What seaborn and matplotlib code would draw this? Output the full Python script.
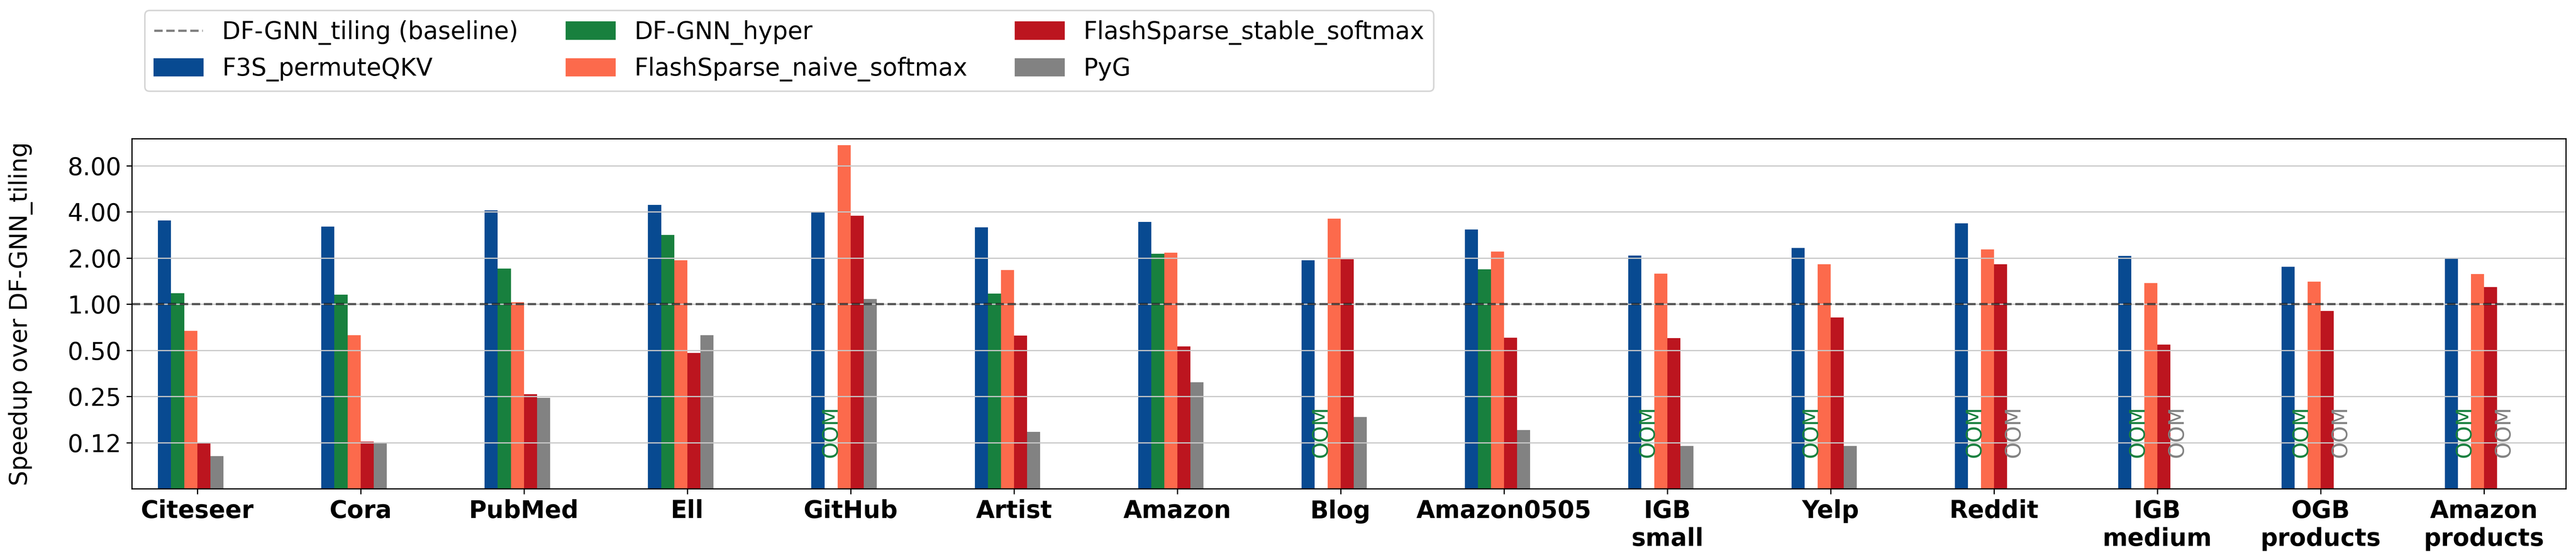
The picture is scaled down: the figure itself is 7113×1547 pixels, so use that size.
import numpy as np
import pandas as pd
import matplotlib
matplotlib.use("Agg")
import matplotlib.pyplot as plt
from matplotlib.lines import Line2D
from matplotlib.patches import Patch
from matplotlib.ticker import FuncFormatter, NullLocator
import seaborn as sns

# datasets on the x axis
datasets = ["Citeseer", "Cora", "PubMed", "Ell", "GitHub", "Artist", "Amazon", "Blog",
            "Amazon0505", "IGB\nsmall", "Yelp", "Reddit", "IGB\nmedium", "OGB\nproducts",
            "Amazon\nproducts"]

# speedup over DF-GNN_tiling (nan = OOM)
nan = np.nan
f3s_permuteqkv = [3.52, 3.20, 4.08, 4.44, 3.95, 3.17, 3.43, 1.93, 3.07, 2.07, 2.33, 3.37, 2.06, 1.75, 1.98]
dfgnn_hyper = [1.18, 1.15, 1.70, 2.83, nan, 1.17, 2.13, nan, 1.69, nan, nan, nan, nan, nan, nan]
flashsparse_naive = [0.668, 0.628, 1.03, 1.93, 10.9, 1.67, 2.16, 3.61, 2.20, 1.58, 1.82, 2.28, 1.37, 1.40, 1.57]
flashsparse_stable = [0.125, 0.127, 0.259, 0.48, 3.76, 0.623, 0.53, 1.96, 0.605, 0.60, 0.816, 1.82, 0.545, 0.901, 1.29]
pyg = [0.102, 0.124, 0.245, 0.628, 1.08, 0.147, 0.309, 0.183, 0.151, 0.119, 0.119, nan, nan, nan, nan]

methods = ["F3S_permuteQKV", "DF-GNN_hyper", "FlashSparse_naive_softmax",
           "FlashSparse_stable_softmax", "PyG"]
series = [f3s_permuteqkv, dfgnn_hyper, flashsparse_naive, flashsparse_stable, pyg]
colors = ["#084a91", "#18803e", "#fc6a4c", "#bc151f", "#828282"]

# long-form table for seaborn
rows = []
for m, vals in zip(methods, series):
    for d, v in zip(datasets, vals):
        rows.append({"dataset": d, "method": m, "speedup": v})
df = pd.DataFrame(rows)

# an empty sixth slot keeps the original bar spacing
pad_level = "_pad"
hue_order = methods + [pad_level]
palette = dict(zip(methods, colors))
palette[pad_level] = "white"
bar_w = 0.08
group_w = bar_w * len(hue_order)

fig, ax = plt.subplots(figsize=(7113 / 300, 1547 / 300), dpi=300)
fig.subplots_adjust(left=0.0512, right=0.996, bottom=0.1273, top=0.7524)

sns.barplot(data=df.dropna(), x="dataset", y="speedup", hue="method",
            order=datasets, hue_order=hue_order, palette=palette,
            width=group_w, saturation=1, errorbar=None, legend=False, ax=ax)

ax.set_yscale("log", base=2)
ax.set_ylim(1 / 16, 12)
ax.set_yticks([0.125, 0.25, 0.5, 1, 2, 4, 8])
ax.yaxis.set_major_formatter(FuncFormatter(lambda v, _: f"{v:.2f}"))
ax.yaxis.set_minor_locator(NullLocator())
ax.set_xlim(-0.4, len(datasets) - 0.5)

ax.grid(axis="y", color="#c8c8c8", linewidth=0.8)
ax.axhline(1.0, color="black", alpha=0.6, linestyle="--", linewidth=1.5)

# OOM markers where a method has no result
for hi, (m, vals, c) in enumerate(zip(methods, series, colors)):
    off = (hi - (len(hue_order) - 1) / 2) * bar_w
    for di, v in enumerate(vals):
        if np.isnan(v):
            ax.text(di + off, 0.1, "OOM", rotation=90, ha="center", va="bottom",
                    color=c, fontsize=14)

ax.set_xlabel("")
ax.set_ylabel("Speedup over DF-GNN_tiling", fontsize=16, labelpad=23)
ax.tick_params(axis="y", labelsize=16)
ax.set_xticks(range(len(datasets)))
ax.set_xticklabels(datasets, fontsize=16, fontweight="bold")

handles = [Line2D([0], [0], color="gray", linestyle="--", linewidth=1.5,
                  label="DF-GNN_tiling (baseline)")]
handles += [Patch(color=c, label=m) for m, c in zip(methods, colors)]
fig.legend(handles=handles, loc="upper left", bbox_to_anchor=(0.0562, 0.981),
           borderaxespad=0, ncol=3, fontsize=16)

fig.savefig("out.png", dpi=300)
